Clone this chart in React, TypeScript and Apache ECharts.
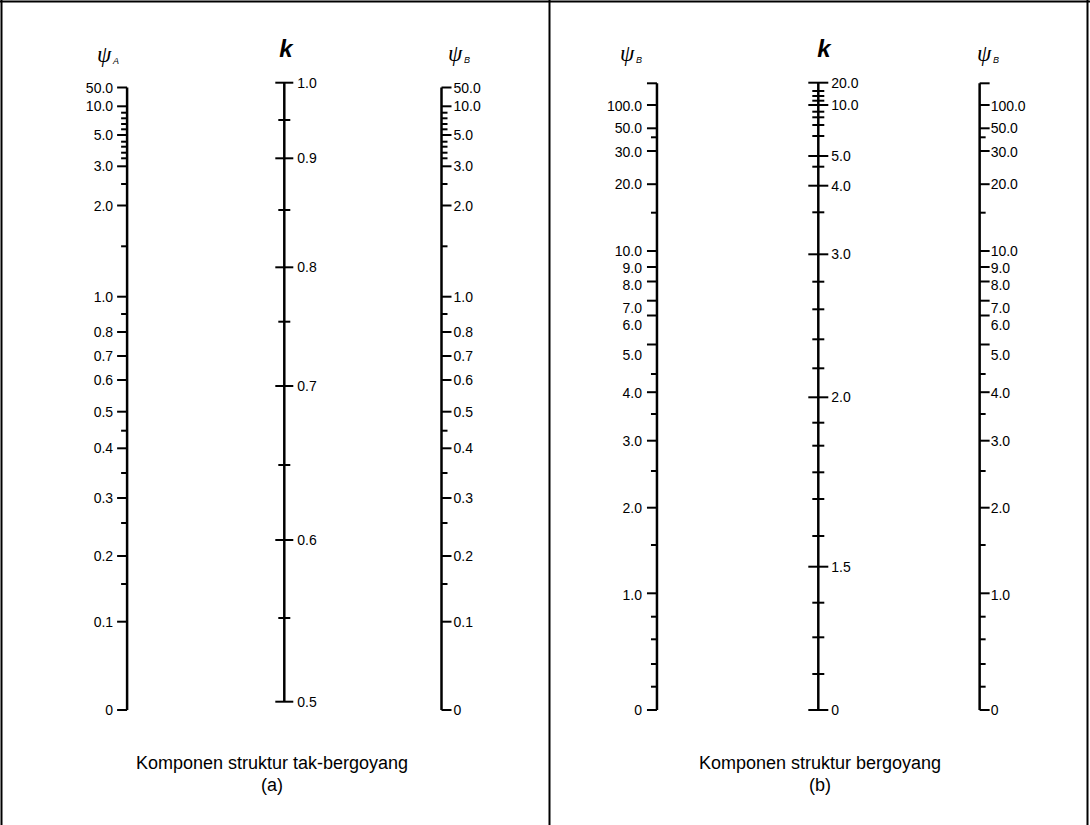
import React, { useEffect, useRef } from 'react';
import * as echarts from 'echarts';

// Positions are read along each scale (0 = bottom end, 640 = top of the drawing area)
// Panel (a): non-sway (tak-bergoyang)
const psiALabels = ['50.0', '10.0', '', '', '', '', '5.0', '', '', '', '', '3.0', '', '2.0', '', '1.0', '', '0.8', '0.7', '0.6', '0.5', '', '0.4', '', '0.3', '', '0.2', '', '0.1', '0'];
const psiAPos = [624.5, 605.7, 599.3, 593.7, 588, 582.7, 577, 570.3, 565.3, 559.3, 553.7, 545.7, 528, 506.5, 465.7, 415.3, 398, 380, 356, 332, 300.3, 281.3, 263.7, 239, 214, 189, 156, 128, 90.3, 2];

const kALabels = ['1.0', '', '0.9', '', '0.8', '', '0.7', '', '0.6', '', '0.5'];
const kAPos = [629.3, 592, 553.7, 502, 444.7, 390.3, 326, 247, 172, 94, 10.3];

// Panel (b): sway (bergoyang)
const psiBLabels = ['', '100.0', '50.0', '', '30.0', '20.0', '', '10.0', '9.0', '8.0', '7.0', '6.0', '5.0', '', '4.0', '', '3.0', '', '2.0', '', '1.0', '', '', '', '', '0'];
const psiBPos = [628.7, 607, 583.7, 574.7, 561, 527.8, 499.3, 461, 445, 430.5, 411.3, 396.5, 367.5, 338, 319.8, 298, 271.3, 241, 204.3, 167, 118.7, 95.3, 72.7, 48, 25.3, 2];
const psiBLabelPos = [null, 606, 583.7, null, 560.3, 528, null, 461.3, 443.7, 427, 403.7, 387, 357, null, 318.7, null, 271.3, null, 204.3, null, 117, null, null, null, null, 2];

const kBLabels = ['20.0', '', '', '', '10.0', '', '', '', '', '5.0', '', '4.0', '', '3.0', '', '', '', '', '2.0', '', '', '', '', '', '1.5', '', '', '', '0'];
const kBPos = [629.3, 621, 616, 611.3, 607, 600.3, 594.7, 587, 576, 556, 545.3, 526.3, 499.7, 457.7, 430.3, 402.7, 372.7, 343.7, 314.7, 289.3, 266.3, 239.7, 213, 176, 145.3, 109.3, 74.7, 38, 2];

const scaleNames = ['psiTop', 'k', 'psiBottom'];

const FONT = '"Liberation Sans", Arial, sans-serif';

type Side = 'left' | 'center' | 'right';

function scaleSeries(
  gi: number,
  cat: number,
  labels: string[],
  pos: number[],
  side: Side,
  majorLen: number,
  minorLen: number,
  labelGap: number,
  labelPos?: (number | null)[]
) {
  const lo = Math.min(...pos);
  const hi = Math.max(...pos);
  return [
    {
      type: 'line',
      xAxisIndex: gi,
      yAxisIndex: gi,
      data: [[cat, lo], [cat, hi]],
      symbol: 'none',
      silent: true,
      lineStyle: { color: '#000', width: 2.5 },
    },
    {
      type: 'custom',
      xAxisIndex: gi,
      yAxisIndex: gi,
      silent: true,
      data: pos.map((p) => [cat, p]),
      renderItem: (params: any, api: any) => {
        const i = params.dataIndex;
        const pt = api.coord([api.value(0), api.value(1)]);
        const label = labels[i];
        const isMajor = label !== '' || i === 0 || i === pos.length - 1;
        const len = isMajor ? majorLen : minorLen;
        let x1: number, x2: number;
        if (side === 'left') { x1 = pt[0] - len; x2 = pt[0]; }
        else if (side === 'right') { x1 = pt[0]; x2 = pt[0] + len; }
        else { x1 = pt[0] - len; x2 = pt[0] + len; }
        const children: any[] = [
          { type: 'line', shape: { x1, y1: pt[1], x2, y2: pt[1] }, style: { stroke: '#000', lineWidth: 2 } },
        ];
        if (label) {
          const lp = labelPos && labelPos[i] != null ? labelPos[i] : api.value(1);
          const ly = api.coord([api.value(0), lp])[1];
          children.push({
            type: 'text',
            style: {
              text: label,
              x: side === 'left' ? pt[0] - labelGap : pt[0] + labelGap,
              y: ly,
              align: side === 'left' ? 'right' : 'left',
              verticalAlign: 'middle',
              fontSize: 14,
              fontFamily: FONT,
              fill: '#000',
            },
          });
        }
        return { type: 'group', children };
      },
    },
  ];
}

function psiHeader(x: number, y: number, sub: string) {
  return [
    {
      type: 'text',
      x,
      y,
      style: {
        text: 'ψ',
        fontSize: 23,
        fontStyle: 'italic',
        fontFamily: '"Liberation Serif", "DejaVu Serif", serif',
        fill: '#000',
        verticalAlign: 'middle',
        align: 'left',
      },
    },
    {
      type: 'text',
      x: x + 16,
      y: y + 7,
      style: {
        text: sub,
        fontSize: 9,
        fontStyle: 'italic',
        fontFamily: FONT,
        fill: '#000',
        verticalAlign: 'middle',
        align: 'left',
      },
    },
  ];
}

function kHeader(x: number, y: number) {
  return {
    type: 'text',
    x,
    y,
    style: {
      text: 'k',
      fontSize: 24,
      fontWeight: 'bold',
      fontStyle: 'italic',
      fontFamily: FONT,
      fill: '#000',
      verticalAlign: 'middle',
      align: 'center',
    },
  };
}

function caption(x: number, y: number, text: string) {
  return {
    type: 'text',
    x,
    y,
    style: { text, fontSize: 18, fontFamily: FONT, fill: '#000', align: 'center', verticalAlign: 'middle' },
  };
}

export default function App() {
  const ref = useRef<HTMLDivElement>(null);
  useEffect(() => {
    if (!ref.current) return;
    const chart = echarts.init(ref.current, undefined, { renderer: 'svg' });
    const axisX = (gi: number) => ({
      type: 'category',
      gridIndex: gi,
      data: scaleNames,
      boundaryGap: true,
      show: false,
    });
    const axisY = (gi: number) => ({
      type: 'value',
      gridIndex: gi,
      min: 0,
      max: 640,
      show: false,
    });
    chart.setOption({
      animation: false,
      backgroundColor: '#fff',
      grid: [
        { left: 48.5, width: 471.6, top: 72, height: 640 },
        { left: 576.3, width: 484, top: 72, height: 640 },
      ],
      xAxis: [axisX(0), axisX(1)],
      yAxis: [axisY(0), axisY(1)],
      series: [
        ...scaleSeries(0, 0, psiALabels, psiAPos, 'left', 10, 6, 14),
        ...scaleSeries(0, 1, kALabels, kAPos, 'center', 9, 6, 13),
        ...scaleSeries(0, 2, psiALabels, psiAPos, 'right', 10, 6, 12),
        ...scaleSeries(1, 0, psiBLabels, psiBPos, 'left', 10, 6, 15, psiBLabelPos),
        ...scaleSeries(1, 1, kBLabels, kBPos, 'center', 10, 6, 13),
        ...scaleSeries(1, 2, psiBLabels, psiBPos, 'right', 10, 6, 11, psiBLabelPos),
      ],
      graphic: [
        { type: 'line', shape: { x1: 1.5, y1: 0, x2: 1.5, y2: 825 }, style: { stroke: '#000', lineWidth: 2 } },
        { type: 'line', shape: { x1: 0, y1: 1.5, x2: 1090, y2: 1.5 }, style: { stroke: '#000', lineWidth: 2 } },
        { type: 'line', shape: { x1: 1087.5, y1: 0, x2: 1087.5, y2: 825 }, style: { stroke: '#000', lineWidth: 2 } },
        { type: 'line', shape: { x1: 549.5, y1: 0, x2: 549.5, y2: 825 }, style: { stroke: '#000', lineWidth: 2 } },
        ...psiHeader(97, 54, 'A'),
        kHeader(286, 48),
        ...psiHeader(448, 53, 'B'),
        ...psiHeader(620, 53, 'B'),
        kHeader(824, 48),
        ...psiHeader(977, 53, 'B'),
        caption(272, 763, 'Komponen struktur tak-bergoyang'),
        caption(272, 785, '(a)'),
        caption(820, 763, 'Komponen struktur bergoyang'),
        caption(820, 785, '(b)'),
      ],
    });
    return () => chart.dispose();
  }, []);
  return (
    <div
      ref={ref}
      style={{ position: 'absolute', left: 0, top: 0, width: 1090, height: 825, background: '#fff' }}
    />
  );
}
